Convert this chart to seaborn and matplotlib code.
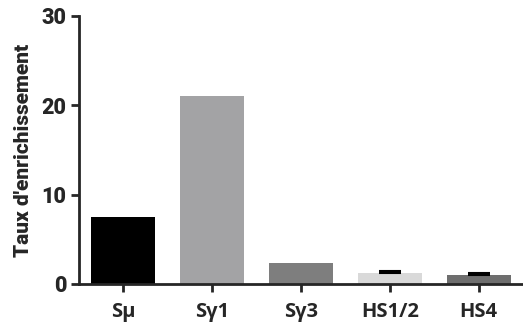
import numpy as np
import pandas as pd
import seaborn as sns
import matplotlib.pyplot as plt

# values
regions = ['Sμ', 'Sγ1', 'Sγ3', 'HS1/2', 'HS4']
enrichment = [7.5, 21.0, 2.4, 1.25, 1.05]
err = [0.0, 0.0, 0.0, 0.15, 0.12]
colors = ['#000000', '#A2A2A6', '#7E7E7E', '#D9D9D9', '#6E6E6E']

df = pd.DataFrame({'region': regions, 'enrichment': enrichment})

sns.set_style('ticks')
plt.rcParams['font.family'] = ['Roboto', 'DejaVu Sans']

fig = plt.figure(figsize=(5.23, 3.26), dpi=100)
ax = fig.add_axes([0.151, 0.129, 0.849, 0.822])

sns.barplot(x='region', y='enrichment', data=df, hue='region', palette=colors,
            legend=False, width=0.72, ax=ax, errorbar=None, linewidth=0)
idx = [i for i, e in enumerate(err) if e > 0]
ax.errorbar(idx, [enrichment[i] for i in idx],
            yerr=[[0]*len(idx), [err[i] for i in idx]],
            fmt='none', ecolor='black', elinewidth=1.5, capsize=8, capthick=1.5)

ax.set_xlim(-0.5, 4.5)
ax.set_ylim(0, 30)
ax.set_yticks([0, 10, 20, 30])
ax.set_xlabel('')
ax.set_ylabel("Taux d'enrichissement", fontsize=15, fontweight='black', labelpad=6)

for lab in ax.get_yticklabels():
    lab.set_fontsize(15.5)
    lab.set_fontweight('black')
for lab in ax.get_xticklabels():
    lab.set_fontsize(14.5)
    lab.set_fontweight('bold')
    lab.set_family(['Open Sans', 'DejaVu Sans'])

ax.tick_params(axis='both', width=2, length=6, pad=3)
ax.tick_params(axis='x', pad=7)
for s in ['left', 'bottom']:
    ax.spines[s].set_linewidth(2)
sns.despine(ax=ax)

plt.savefig('out.png', dpi=100)
